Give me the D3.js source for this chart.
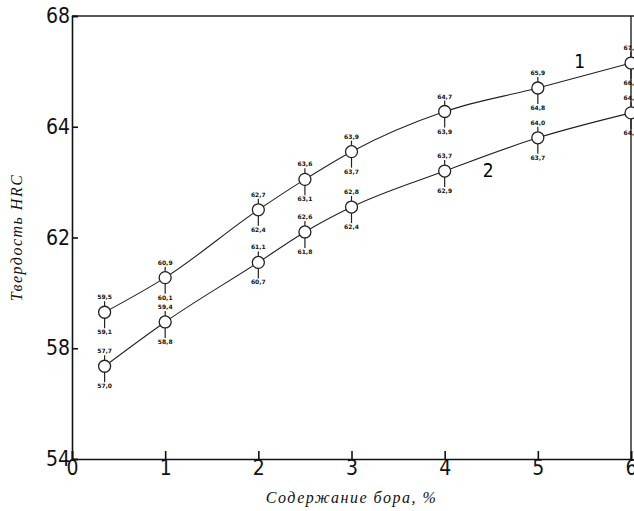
<!DOCTYPE html>
<html lang="ru">
  <head>
    <meta charset="utf-8">
    <title>Твердость HRC</title>
    <script type="text/javascript" src="https://cdn.jsdelivr.net/npm/d3@7"></script>
    <style>
    body{margin:0;background:#fff;}
    svg{display:block;}
    .axis path,
    .axis line{
      stroke:#111;
      stroke-width:1.6px;
    }
    .axis text{
      font-family:"DejaVu Sans Condensed","DejaVu Sans",sans-serif;
      font-size:21px;
      fill:#111;
    }
    .val{
      font-family:"DejaVu Sans",sans-serif;
      font-size:6px;
      font-weight:bold;
      fill:#111;
    }
    .title{
      font-family:"Liberation Serif",serif;
      font-style:italic;
      font-size:16px;
      letter-spacing:1.5px;
      fill:#111;
    }
    </style>
  </head>
  <body>
    <svg></svg>
    <script type="text/javascript">
      // содержание бора, %
      var boron=[0.35,1,2,2.5,3,4,5,6];
      // твердость HRC, кривая 1 и кривая 2
      var hrc1=[59.3,60.55,62.5,63.05,63.55,64.55,65.4,66.3];
      var hrc2=[57.35,58.95,61.1,62.1,62.55,63.2,63.8,64.5];
      // подписи разброса над и под точками
      var top1=["59,5","60,9","62,7","63,6","63,9","64,7","65,9","67,1"];
      var bot1=["59,1","60,1","62,4","63,1","63,7","63,9","64,8","66,6"];
      var top2=["57,7","59,4","61,1","62,6","62,8","63,7","64,0","64,7"];
      var bot2=["57,0","58,8","60,7","61,8","62,4","62,9","63,7","64,1"];
      var yTicks=[54,58,62,64,68];
      var xTicks=[0,1,2,3,4,5,6];

      var width=634;
      var height=511;
      var padL=72,padR=631,padT=16,padB=459;

      var svg=d3.select("svg")
                .attr("width",width)
                .attr("height",height);

      var xscale=d3.scaleLinear()
                   .domain([0,6])
                   .range([padL,padR]);
      // ось в оригинале размечена неравномерно: метки стоят на равных расстояниях
      var yscale=d3.scaleLinear()
                   .domain(yTicks)
                   .range(yTicks.map(function(d,i){
                     return padB-i*(padB-padT)/(yTicks.length-1);
                   }));

      // рамка сверху и справа
      svg.append("line")
         .attr("x1",padL).attr("x2",width)
         .attr("y1",padT).attr("y2",padT)
         .attr("stroke","#222").attr("stroke-width",1.4);
      svg.append("line")
         .attr("x1",padR).attr("x2",padR)
         .attr("y1",padT).attr("y2",padB)
         .attr("stroke","#222").attr("stroke-width",1.4);

      var yAxis=d3.axisLeft(yscale)
                  .tickValues(yTicks)
                  .tickSize(-6)
                  .tickPadding(2)
                  .tickFormat(d3.format("d"));
      var xAxis=d3.axisBottom(xscale)
                  .tickValues(xTicks)
                  .tickSize(-8)
                  .tickPadding(1)
                  .tickFormat(d3.format("d"));

      svg.append("g")
         .attr("class","axis")
         .attr("transform","translate("+padL+",0)")
         .call(yAxis)
         .call(function(g){g.selectAll("line").attr("stroke-width",3);});

      svg.append("g")
         .attr("class","axis")
         .attr("transform","translate(0,"+padB+")")
         .call(xAxis)
         .call(function(g){g.selectAll("line").attr("stroke-width",2);});

      var line=d3.line()
                 .curve(d3.curveMonotoneX)
                 .x(function(d){return xscale(d[0]);})
                 .y(function(d){return yscale(d[1]);});

      var series=[
        {vals:hrc1,hi:top1,lo:bot1},
        {vals:hrc2,hi:top2,lo:bot2}
      ];

      series.forEach(function(s){
        var pts=boron.map(function(b,i){return [b,s.vals[i],s.hi[i],s.lo[i]];});

        svg.append("path")
           .datum(pts)
           .attr("d",line)
           .attr("fill","none")
           .attr("stroke","#222")
           .attr("stroke-width",1.1);

        var g=svg.selectAll(null)
                 .data(pts)
                 .enter()
                 .append("g")
                 .attr("transform",function(d){
                   return "translate("+xscale(d[0])+","+yscale(d[1])+")";
                 });
        // усы разброса
        g.append("line")
         .attr("x1",0).attr("x2",0)
         .attr("y1",-11).attr("y2",16)
         .attr("stroke","#222")
         .attr("stroke-width",1.2);
        g.append("circle")
         .attr("r",6)
         .attr("fill","#fff")
         .attr("stroke","#222")
         .attr("stroke-width",1.3);
        g.append("text")
         .attr("class","val")
         .attr("text-anchor","middle")
         .attr("y",-13)
         .text(function(d){return d[2];});
        g.append("text")
         .attr("class","val")
         .attr("text-anchor","middle")
         .attr("y",22)
         .text(function(d){return d[3];});
      });

      // номера кривых
      svg.append("text")
         .attr("x",xscale(5.39))
         .attr("y",yscale(66.12))
         .attr("font-family","DejaVu Sans Condensed,sans-serif")
         .attr("font-size",19)
         .text("1");
      svg.append("text")
         .attr("x",xscale(4.41))
         .attr("y",yscale(63.1))
         .attr("font-family","DejaVu Sans Condensed,sans-serif")
         .attr("font-size",19)
         .text("2");

      svg.append("text")
         .attr("class","title")
         .attr("text-anchor","middle")
         .attr("transform","translate(22,"+((padT+padB)/2)+") rotate(-90)")
         .text("Твердость HRC");
      svg.append("text")
         .attr("class","title")
         .attr("text-anchor","middle")
         .attr("x",(padL+padR)/2)
         .attr("y",503)
         .text("Содержание бора, %");
    </script>
  </body>
</html>
